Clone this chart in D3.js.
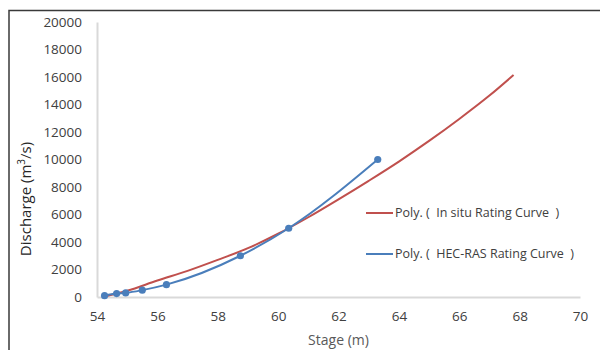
<!DOCTYPE html>
<html>
<head>
<meta charset="utf-8">
<script src="https://cdn.jsdelivr.net/npm/d3@7"></script>
<style>
  body { margin: 0; background: #fff; }
  svg { display: block; font-family: "Open Sans", sans-serif; }
  .leg { white-space: pre; }
</style>
</head>
<body>
<div id="chart"></div>
<script>
// HEC-RAS simulated points (stage m, discharge m3/s)
const hecStage = [54.25, 54.65, 54.95, 55.5, 56.3, 58.75, 60.35, 63.3];
const hecQ = [100, 250, 300, 500, 900, 3000, 5000, 10000];

// in situ rating curve
const situStage = [54.2, 55, 56, 57, 58, 59, 60, 61, 62, 63, 64, 65, 66, 67, 67.8];
const situQ = [0, 450, 1200, 1900, 2700, 3550, 4600, 5800, 7100, 8450, 9850, 11350, 12950, 14650, 16150];

const xTicks = [54, 56, 58, 60, 62, 64, 66, 68, 70];
const yTicks = [0, 2000, 4000, 6000, 8000, 10000, 12000, 14000, 16000, 18000, 20000];

const width = 600, height = 350;
const margin = ({top: 22, right: 20, bottom: 53, left: 97});

const svg = d3.select("#chart").append("svg")
    .attr("width", width)
    .attr("height", height);

// outer frame (only top and left edges visible)
svg.append("path")
    .attr("d", `M9,${height} V10.5 H${width}`)
    .attr("fill", "none")
    .attr("stroke", "#3a3a3a")
    .attr("stroke-width", 1.5);

let x = d3.scaleLinear().domain([54, 70]).range([margin.left, 580]);
let y = d3.scaleLinear().domain([0, 20000]).range([297, margin.top]);

let xAxis = g => g
    .attr("transform", `translate(0,${y(0)})`)
    .call(d3.axisBottom(x).tickValues(xTicks).tickSize(0).tickPadding(14))
    .call(g => g.select(".domain").attr("stroke", "#d9d9d9").attr("stroke-width", 2))
    .call(g => g.selectAll("text").attr("fill", "#404040").attr("font-size", 13.5));

let yAxis = g => g
    .attr("transform", `translate(${x(54)},0)`)
    .call(d3.axisLeft(y).tickValues(yTicks).tickFormat(d3.format("d")).tickSize(0).tickPadding(15))
    .call(g => g.select(".domain").attr("stroke", "#d9d9d9").attr("stroke-width", 2))
    .call(g => g.selectAll("text").attr("fill", "#404040").attr("font-size", 13.5));

svg.append("g").call(xAxis);
svg.append("g").call(yAxis);
svg.selectAll(".tick text").attr("font-family", "Open Sans, sans-serif");

const situ = situStage.map((s, i) => [s, situQ[i]]);
const hec = hecStage.map((s, i) => [s, hecQ[i]]);

let line = d3.line()
    .x(d => x(d[0]))
    .y(d => y(d[1]))
    .curve(d3.curveMonotoneX);

svg.append("path")
    .datum(situ)
    .attr("fill", "none")
    .attr("stroke", "#c0504d")
    .attr("stroke-width", 2)
    .attr("d", line);

svg.append("path")
    .datum(hec)
    .attr("fill", "none")
    .attr("stroke", "#4a7ebb")
    .attr("stroke-width", 2)
    .attr("d", line);

svg.append("g")
    .attr("fill", "#4a7ebb")
    .selectAll("circle")
    .data(hec)
    .join("circle")
    .attr("cx", d => x(d[0]))
    .attr("cy", d => y(d[1]))
    .attr("r", 3.6);

// legend
const legend = [
  {name: "Poly. (  In situ Rating Curve  )", color: "#c0504d", y: 213},
  {name: "Poly. (  HEC-RAS Rating Curve  )", color: "#4a7ebb", y: 254}
];
const lg = svg.append("g").selectAll("g").data(legend).join("g")
    .attr("transform", d => `translate(366,${d.y})`);
lg.append("line")
    .attr("x1", 0).attr("x2", 27)
    .attr("stroke", d => d.color)
    .attr("stroke-width", 2);
lg.append("text")
    .attr("class", "leg")
    .attr("x", 29)
    .attr("dy", "0.35em")
    .attr("font-size", 12.5)
    .attr("fill", "#404040")
    .text(d => d.name);

// axis titles
svg.append("text")
    .attr("x", x(62))
    .attr("y", 345)
    .attr("text-anchor", "middle")
    .attr("font-size", 14)
    .attr("fill", "#595959")
    .text("Stage (m)");

const yt = svg.append("text")
    .attr("transform", "translate(31,199) rotate(-90)")
    .attr("text-anchor", "middle")
    .attr("font-size", 15)
    .attr("fill", "#262626");
yt.append("tspan").text("Discharge (m");
yt.append("tspan").attr("dy", -6).attr("font-size", 10).text("3");
yt.append("tspan").attr("dy", 6).text("/s)");
</script>
</body>
</html>
